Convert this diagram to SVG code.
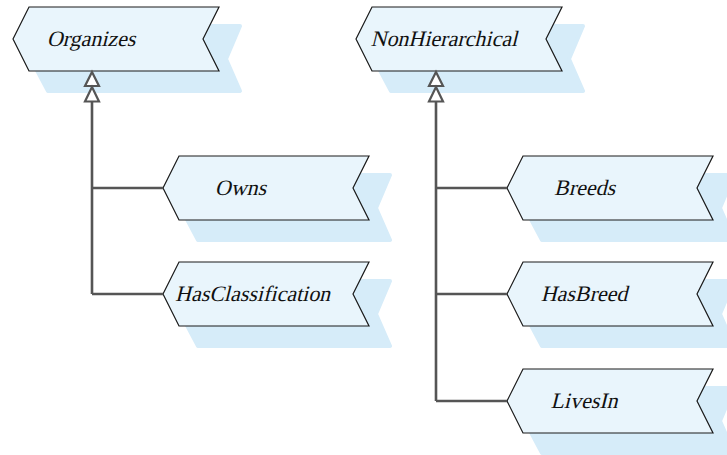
<svg xmlns="http://www.w3.org/2000/svg" width="727" height="455" viewBox="0 0 727 455">
  <style>
    .shadow { fill: #d6ecf9; stroke: #d6ecf9; stroke-width: 4; stroke-linejoin: round; }
    .box { fill: #e9f5fc; stroke: #1a1a1a; stroke-width: 1.2; stroke-linejoin: miter; }
    /* slanted serif labels; the slant is applied per label with skewX */
    .label { font-family: "Liberation Serif", "Times New Roman", serif; font-size: 22px; fill: #111; }
    .wire { fill: none; stroke: #555; stroke-width: 2.6; }
    .head { fill: #fff; stroke: #555; stroke-width: 2.2; stroke-linejoin: miter; }
  </style>
  <defs>
    <!-- flag shape: left point at (0,0), 64 tall, right edge notched -->
    <path id="shadowShape" d="M 18,20 L 35,-13 L 227,-13 L 213,20 L 227,52 L 35,52 Z"/>
    <path id="flag" d="M 0,0 L 16,-32 L 206,-32 L 190,0 L 206,32 L 16,32 Z"/>
  </defs>

  <g id="organizes" transform="translate(13,39)">
    <use href="#shadowShape" class="shadow"/>
    <use href="#flag" class="box"/>
    <text class="label" transform="translate(78,6.5) skewX(-14)" text-anchor="middle">Organizes</text>
  </g>

  <g id="nonhierarchical" transform="translate(356,39)">
    <use href="#shadowShape" class="shadow"/>
    <use href="#flag" class="box"/>
    <text class="label" transform="translate(14.5,6.5) skewX(-14)">NonHierarchical</text>
  </g>

  <g id="owns" transform="translate(163,188)">
    <use href="#shadowShape" class="shadow"/>
    <use href="#flag" class="box"/>
    <text class="label" transform="translate(77.5,6.5) skewX(-14)" text-anchor="middle">Owns</text>
  </g>

  <g id="hasclassification" transform="translate(163,294)">
    <use href="#shadowShape" class="shadow"/>
    <use href="#flag" class="box"/>
    <text class="label" transform="translate(12,6.5) skewX(-14)">HasClassification</text>
  </g>

  <g id="breeds" transform="translate(507,188)">
    <use href="#shadowShape" class="shadow"/>
    <use href="#flag" class="box"/>
    <text class="label" transform="translate(77.5,6.5) skewX(-14)" text-anchor="middle">Breeds</text>
  </g>

  <g id="hasbreed" transform="translate(507,294)">
    <use href="#shadowShape" class="shadow"/>
    <use href="#flag" class="box"/>
    <text class="label" transform="translate(77,6.5) skewX(-14)" text-anchor="middle">HasBreed</text>
  </g>

  <g id="livesin" transform="translate(507,401)">
    <use href="#shadowShape" class="shadow"/>
    <use href="#flag" class="box"/>
    <text class="label" transform="translate(77,6.5) skewX(-14)" text-anchor="middle">LivesIn</text>
  </g>

  <!-- generalization connectors, drawn over the node shadows -->
  <g id="connectors">
    <path class="wire" d="M 92,102 V 294 M 92,188 H 163 M 92,294 H 163"/>
    <path class="head" d="M 92,72 L 99,86 L 85,86 Z"/>
    <path class="head" d="M 92,87 L 99,101.5 L 85,101.5 Z"/>
    <path class="wire" d="M 436,102 V 401 M 436,188 H 507 M 436,294 H 507 M 436,401 H 507"/>
    <path class="head" d="M 436,72 L 443,86 L 429,86 Z"/>
    <path class="head" d="M 436,87 L 443,101.5 L 429,101.5 Z"/>
  </g>
</svg>
